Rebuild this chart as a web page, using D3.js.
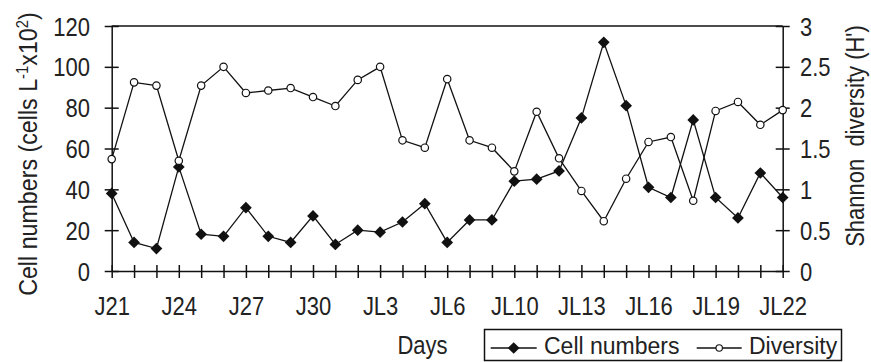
<!DOCTYPE html>
<html>
<head>
<meta charset="utf-8">
<script src="https://cdn.jsdelivr.net/npm/d3@7"></script>
<style>
  body { margin: 0; background: #fff; }
  svg text { font-family: "Liberation Sans", Arial, sans-serif; fill: #222; }
  .axis path, .axis line { stroke: #111; stroke-width: 1.5; }
</style>
</head>
<body>
<div id="chart"></div>
<script>
// days sampled (one day between JL6 and JL10 not sampled)
const days = ['J21', 'J22', 'J23', 'J24', 'J25', 'J26', 'J27', 'J28', 'J29', 'J30',
  'JL1', 'JL2', 'JL3', 'JL4', 'JL5', 'JL6', 'JL7', 'JL8', 'JL10', 'JL11', 'JL12',
  'JL13', 'JL14', 'JL15', 'JL16', 'JL17', 'JL18', 'JL19', 'JL20', 'JL21', 'JL22'];

// cells L-1 x10^2
const cellNumbers = [38, 14, 11, 51, 18, 17, 31, 17, 14, 27, 13, 20, 19, 24, 33, 14,
  25, 25, 44, 45, 49, 75, 112, 81, 41, 36, 74, 36, 26, 48, 36];

// Shannon H'
const diversity = [1.37, 2.31, 2.27, 1.35, 2.27, 2.5, 2.18, 2.21, 2.24, 2.13, 2.02,
  2.34, 2.5, 1.6, 1.51, 2.35, 1.6, 1.51, 1.22, 1.95, 1.38, 0.98, 0.61, 1.13, 1.58,
  1.64, 0.86, 1.96, 2.07, 1.79, 1.97];

const leftTicks = [0, 20, 40, 60, 80, 100, 120];
const rightTicks = [0, 0.5, 1, 1.5, 2, 2.5, 3];

const svgWidth = 871;
const svgHeight = 362;
const margin = { top: 26, right: 88.3, bottom: 91, left: 111.7 };
const width = svgWidth - margin.left - margin.right;
const height = svgHeight - margin.top - margin.bottom;

const sx = 0.88; // fonts in the picture are a bit condensed
const fs = 25;

const svg = d3.select('#chart')
  .append('svg')
  .attr('width', svgWidth)
  .attr('height', svgHeight);

const chartGroup = svg.append('g')
  .attr('transform', `translate(${margin.left}, ${margin.top})`);

const xScale = d3.scalePoint()
  .domain(days)
  .range([0, width]);

const yLeft = d3.scaleLinear().domain([0, 120]).range([height, 0]);
const yRight = d3.scaleLinear().domain([0, 3]).range([height, 0]);

// top frame line
chartGroup.append('line')
  .attr('x1', 0).attr('x2', width)
  .attr('y1', 0).attr('y2', 0)
  .attr('stroke', '#111')
  .attr('stroke-width', 1.5);

// x axis
const xAxis = chartGroup.append('g')
  .attr('class', 'axis')
  .attr('transform', `translate(0, ${height})`)
  .call(d3.axisBottom(xScale)
    .tickSizeOuter(0)
    .tickFormat((d, i) => i % 3 === 0 ? d : ''));
xAxis.selectAll('.tick line').attr('y1', -6).attr('y2', 7);
xAxis.selectAll('.tick text')
  .attr('y', 26)
  .attr('dy', '0.71em')
  .attr('transform', `scale(${sx},1)`)
  .style('font-size', fs + 'px');

// left axis
const leftAxis = chartGroup.append('g')
  .attr('class', 'axis')
  .call(d3.axisLeft(yLeft).tickValues(leftTicks).tickSizeOuter(0));
leftAxis.selectAll('.tick line').attr('x1', -7).attr('x2', 7);
leftAxis.selectAll('.tick text')
  .attr('x', -21.7 / sx)
  .attr('dy', '0.36em')
  .attr('transform', `scale(${sx},1)`)
  .style('font-size', fs + 'px');

// right axis
const rightAxis = chartGroup.append('g')
  .attr('class', 'axis')
  .attr('transform', `translate(${width}, 0)`)
  .call(d3.axisRight(yRight).tickValues(rightTicks).tickSizeOuter(0)
    .tickFormat(d3.format('')));
rightAxis.selectAll('.tick line').attr('x1', -7).attr('x2', 7);
rightAxis.selectAll('.tick text')
  .attr('x', 17.3 / sx)
  .attr('dy', '0.36em')
  .attr('transform', `scale(${sx},1)`)
  .style('font-size', fs + 'px');

// cell numbers line + diamonds
const diamond = d3.symbol(d3.symbolSquare, 69);

chartGroup.append('path')
  .datum(cellNumbers)
  .attr('fill', 'none')
  .attr('stroke', '#111')
  .attr('stroke-width', 1.3)
  .attr('d', d3.line()
    .x((d, i) => xScale(days[i]))
    .y(d => yLeft(d)));

chartGroup.selectAll('.cellMark')
  .data(cellNumbers)
  .enter()
  .append('path')
  .classed('cellMark', true)
  .attr('d', diamond)
  .attr('transform', (d, i) => `translate(${xScale(days[i])}, ${yLeft(d)}) rotate(45)`)
  .attr('fill', '#111');

// diversity line + hollow circles
chartGroup.append('path')
  .datum(diversity)
  .attr('fill', 'none')
  .attr('stroke', '#111')
  .attr('stroke-width', 1.3)
  .attr('d', d3.line()
    .x((d, i) => xScale(days[i]))
    .y(d => yRight(d)));

chartGroup.selectAll('.divMark')
  .data(diversity)
  .enter()
  .append('circle')
  .classed('divMark', true)
  .attr('cx', (d, i) => xScale(days[i]))
  .attr('cy', d => yRight(d))
  .attr('r', 3.7)
  .attr('fill', '#fff')
  .attr('stroke', '#111')
  .attr('stroke-width', 1.2);

// axis titles
const leftTitle = svg.append('text')
  .attr('transform', `translate(37, 154) rotate(-90) scale(0.93,1)`)
  .attr('text-anchor', 'middle')
  .style('font-size', fs + 'px');
leftTitle.append('tspan').text('Cell numbers (cells L');
leftTitle.append('tspan').attr('dy', -9).style('font-size', '16px').text('-1');
leftTitle.append('tspan').attr('dy', 9).text('x10');
leftTitle.append('tspan').attr('dy', -9).style('font-size', '16px').text('2');
leftTitle.append('tspan').attr('dy', 9).text(')');

svg.append('text')
  .attr('transform', `translate(864, 136) rotate(-90) scale(${sx},1)`)
  .attr('text-anchor', 'middle')
  .style('font-size', fs + 'px')
  .style('white-space', 'pre')
  .text("Shannon  diversity (H')");

svg.append('text')
  .attr('transform', `translate(422.5, 353.5) scale(${sx},1)`)
  .attr('text-anchor', 'middle')
  .style('font-size', fs + 'px')
  .text('Days');

// legend
const legend = svg.append('g');
legend.append('rect')
  .attr('x', 484.5).attr('y', 329.5)
  .attr('width', 357).attr('height', 31)
  .attr('fill', '#fff')
  .attr('stroke', '#111')
  .attr('stroke-width', 1.5);

const legendItems = [
  { name: 'Cell numbers', x0: 490.7, x1: 536.7, tx: 544, mark: 'diamond' },
  { name: 'Diversity', x0: 696.7, x1: 741.7, tx: 749, mark: 'circle' }
];
legendItems.forEach(item => {
  const cx = (item.x0 + item.x1) / 2;
  legend.append('line')
    .attr('x1', item.x0).attr('x2', item.x1)
    .attr('y1', 348).attr('y2', 348)
    .attr('stroke', '#111')
    .attr('stroke-width', 1.3);
  if (item.mark === 'diamond') {
    legend.append('path')
      .attr('d', diamond)
      .attr('transform', `translate(${cx}, 348) rotate(45)`)
      .attr('fill', '#111');
  } else {
    legend.append('circle')
      .attr('cx', cx).attr('cy', 348).attr('r', 3.2)
      .attr('fill', '#fff')
      .attr('stroke', '#111')
      .attr('stroke-width', 1.1);
  }
  legend.append('text')
    .attr('x', item.tx).attr('y', 353.5)
    .style('font-size', '23px')
    .text(item.name);
});
</script>
</body>
</html>
